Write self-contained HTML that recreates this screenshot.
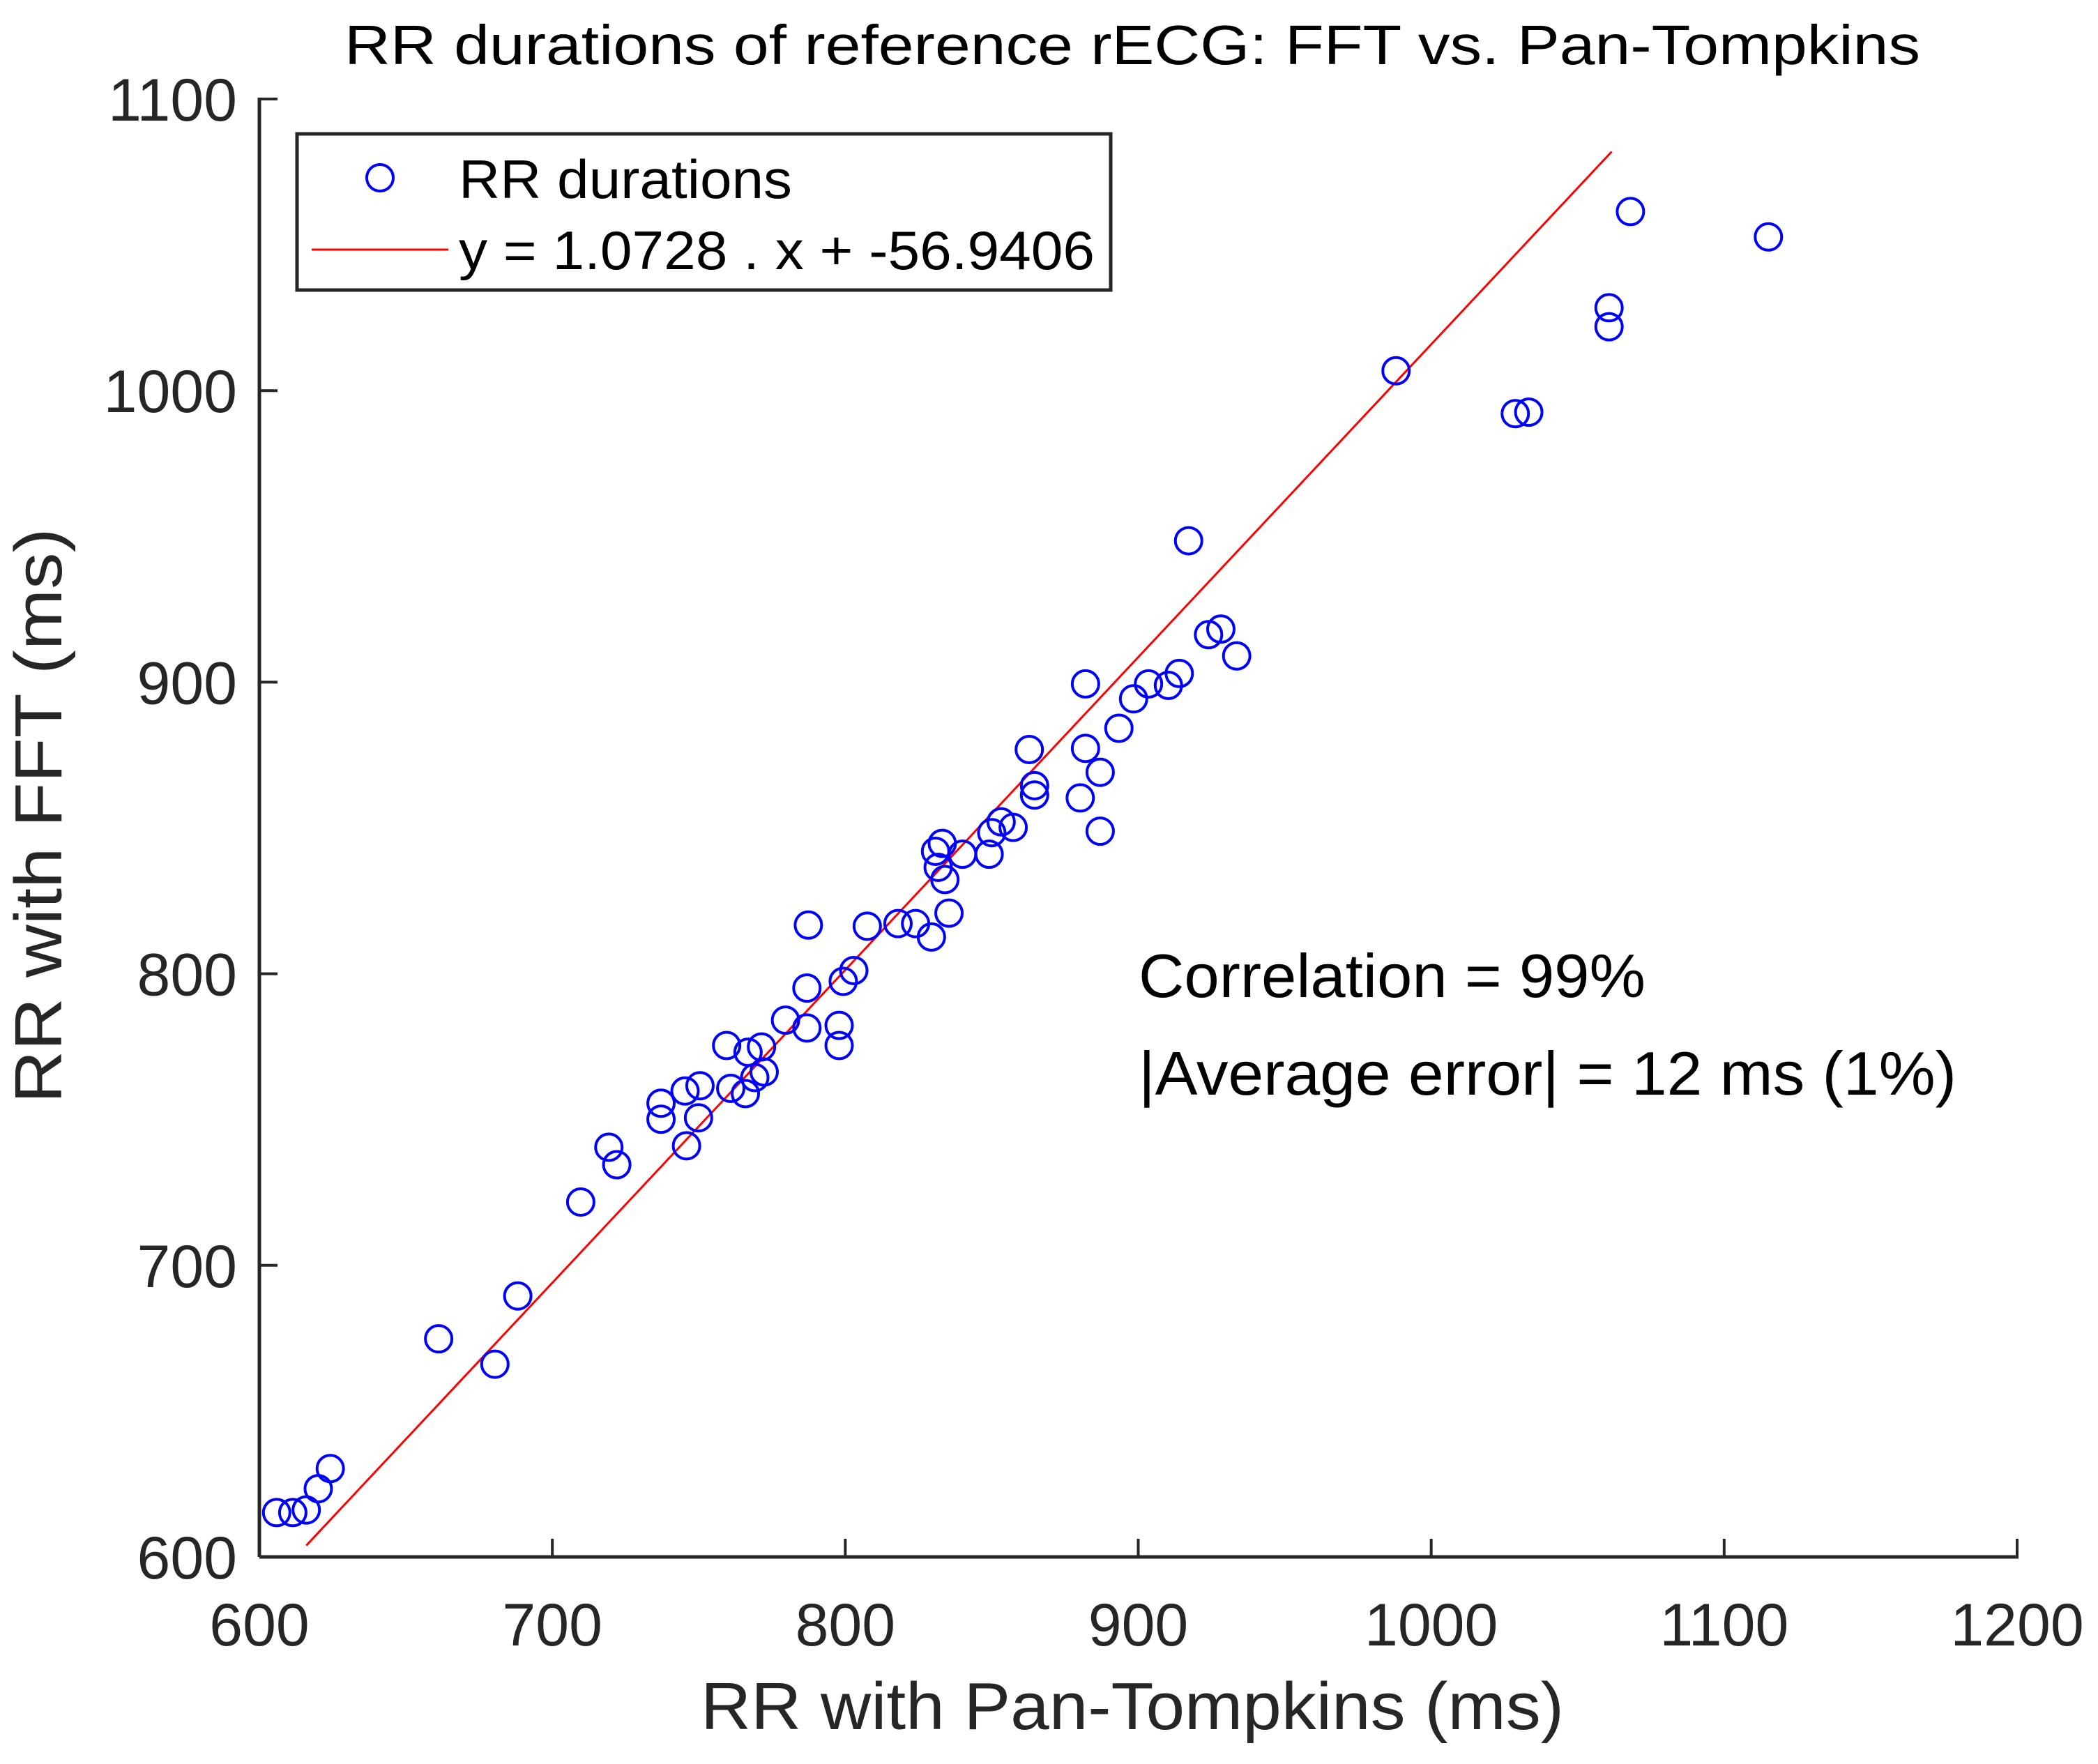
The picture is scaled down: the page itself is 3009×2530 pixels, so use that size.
<!DOCTYPE html>
<html><head><meta charset="utf-8"><style>
html,body{margin:0;padding:0;background:#fff}
svg{display:block;font-family:"Liberation Sans",Arial,sans-serif}
</style></head><body>
<svg id="chart" width="3009" height="2530" viewBox="0 0 3009 2530" xmlns="http://www.w3.org/2000/svg">
<rect width="3009" height="2530" fill="#fff"/>
<text x="1624" y="92" font-size="80" text-anchor="middle" fill="#000" textLength="2260" lengthAdjust="spacingAndGlyphs">RR durations of reference rECG: FFT vs. Pan-Tompkins</text>
<g id="marks"></g>
<g id="axes"></g>
<text x="1624" y="2480" font-size="96" text-anchor="middle" fill="#262626" textLength="1238" lengthAdjust="spacingAndGlyphs">RR with Pan-Tompkins (ms)</text>
<text transform="translate(88,1170) rotate(-90)" font-size="96" text-anchor="middle" fill="#262626" textLength="825" lengthAdjust="spacingAndGlyphs">RR with FFT (ms)</text>
<g>
<rect x="426" y="192" width="1167" height="224" fill="#fff" stroke="#262626" stroke-width="5"/>
<circle cx="545" cy="255" r="19" fill="none" stroke="#0000ff" stroke-width="4"/>
<text x="658" y="284" font-size="78" fill="#000" textLength="478" lengthAdjust="spacingAndGlyphs">RR durations</text>
<line x1="447" y1="358" x2="643" y2="358" stroke="#ff0000" stroke-width="3"/>
<text x="658" y="386" font-size="78" fill="#000" textLength="912" lengthAdjust="spacingAndGlyphs">y = 1.0728 . x + -56.9406</text>
</g>
<text x="1633" y="1430" font-size="88" fill="#000" textLength="727" lengthAdjust="spacingAndGlyphs">Correlation = 99%</text>
<text x="1633" y="1570" font-size="88" fill="#000" textLength="1173" lengthAdjust="spacingAndGlyphs">|Average error| = 12 ms (1%)</text>
</svg>
<script>
const xVals=[605.9,611.4,616.0,620.1,624.2,661.2,680.4,688.2,709.7,719.3,722.0,737.1,737.1,745.3,745.8,750.4,749.9,759.5,760.9,765.9,766.8,769.1,771.4,772.3,779.6,787.4,786.9,786.9,797.9,797.9,799.3,802.9,807.5,818.0,824.0,829.4,830.8,831.7,833.1,834.0,835.4,840.0,849.1,850.0,853.2,857.3,862.8,864.6,864.6,880.2,882.0,882.0,887.0,887.0,893.4,898.4,903.5,910.3,914.0,917.2,924.0,928.2,933.6,988.0,1028.7,1033.3,1060.7,1060.7,1068.0,1115.1];
const yVals=[615.2,615.2,616.1,623.4,630.3,674.8,666.1,689.5,721.7,740.5,734.5,755.6,750.1,759.8,741.0,761.6,750.6,775.4,760.7,758.9,773.1,764.4,774.9,766.3,784.1,816.7,795.1,781.4,782.3,775.4,797.4,801.1,816.3,817.2,817.2,812.6,842.0,836.5,844.7,832.3,820.8,841.0,841.0,848.4,852.1,850.2,876.9,864.5,861.3,860.3,877.3,899.4,869.1,848.9,884.2,894.3,899.4,898.9,903.0,948.5,916.3,918.2,909.0,1006.8,992.1,992.6,1028.4,1021.9,1061.4,1052.7];
const fitSlope=1.0728, fitIntercept=-56.9406;
const fitRange=[616,1061.6];
const xTicks=[600,700,800,900,1000,1100,1200];
const yTicks=[600,700,800,900,1000,1100];
const xDomain=[600,1200], yDomain=[600,1100];
const L=372,R=2893,T=142,B=2233;
const sx=v=>L+(v-xDomain[0])/(xDomain[1]-xDomain[0])*(R-L);
const sy=v=>B-(v-yDomain[0])/(yDomain[1]-yDomain[0])*(B-T);
const NS='http://www.w3.org/2000/svg';
const marks=document.getElementById('marks'), axes=document.getElementById('axes');
function mk(tag,attrs,parent){const e=document.createElementNS(NS,tag);for(const k in attrs)e.setAttribute(k,attrs[k]);parent.appendChild(e);return e;}
const fl=mk('line',{x1:sx(fitRange[0]),y1:sy(fitSlope*fitRange[0]+fitIntercept),x2:sx(fitRange[1]),y2:sy(fitSlope*fitRange[1]+fitIntercept),stroke:'#ff0000','stroke-width':3},marks);


xVals.forEach((x,i)=>{
  const c=mk('circle',{cx:sx(x),cy:sy(yVals[i]),r:19,fill:'none',stroke:'#0000ff','stroke-width':4},marks);
  
  
});
const xa=mk('line',{x1:L,y1:B,x2:R+2,y2:B,stroke:'#262626','stroke-width':5},axes);


const ya=mk('line',{x1:L,y1:T-2,x2:L,y2:B,stroke:'#262626','stroke-width':5},axes);


xTicks.forEach(t=>{
  const l=mk('line',{x1:sx(t),y1:B,x2:sx(t),y2:B-26,stroke:'#262626','stroke-width':4},axes);
  
  
  const tx=mk('text',{x:sx(t),y:2360,'font-size':86,'text-anchor':'middle',fill:'#262626'},axes);
  tx.textContent=t;
  
  
});
yTicks.forEach(t=>{
  const l=mk('line',{x1:L,y1:sy(t),x2:L+26,y2:sy(t),stroke:'#262626','stroke-width':4},axes);
  
  
  const tx=mk('text',{x:340,y:sy(t)+31,'font-size':86,'text-anchor':'end',fill:'#262626'},axes);
  tx.textContent=t;
  
  
});
</script>
</body></html>
